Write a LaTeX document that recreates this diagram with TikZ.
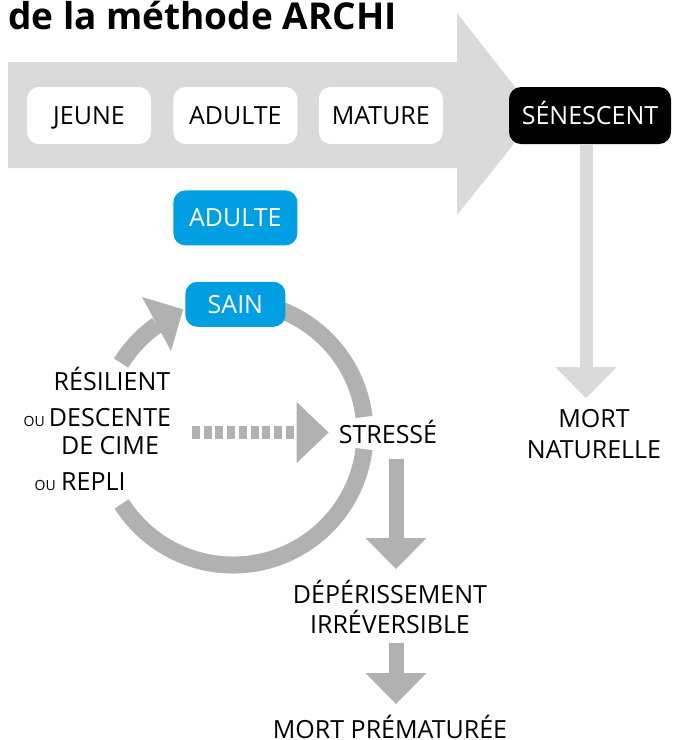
\documentclass[tikz,border=0pt]{standalone}
\usepackage{fontspec}
\setmainfont{Open Sans}
\usetikzlibrary{arrows.meta, positioning}
\definecolor{archiblue}{RGB}{0,159,227}
\definecolor{lightgrey}{RGB}{218,218,218}
\definecolor{midgrey}{RGB}{177,177,177}
\tikzset{
  stage/.style={fill=white, rounded corners=12pt, minimum width=124pt, minimum height=57pt,
    inner sep=0pt, font=\fontsize{25}{30}\selectfont, text height=18pt, text depth=0pt},
  bluestage/.style={stage, fill=archiblue, text=white},
  lbl/.style={font=\fontsize{25}{30}\selectfont, inner sep=0pt, align=center},
  oulbl/.style={font=\fontsize{14}{16}\selectfont, inner sep=0pt},
  ring/.style={draw=midgrey, line width=17pt},
  fall/.style={draw=midgrey, line width=15pt, -{Triangle[length=31pt, width=61pt, line width=0pt]}},
  age/.style={draw=lightgrey, line width=13pt, -{Triangle[length=31pt, width=61pt, line width=0pt]}},
  relapse/.style={draw=midgrey, line width=13pt, dash pattern=on 8pt off 3.7pt,
    -{Triangle[length=32pt, width=61pt, line width=0pt]}},
}
\begin{document}
\begin{tikzpicture}[x=1pt, y=1pt]
  \useasboundingbox (0,0) rectangle (673,-740);
  \node[anchor=base west, inner sep=0pt, font=\fontsize{37}{40}\selectfont\bfseries] (title) at (8,-29) {de la méthode ARCHI};
  % big arrow of ages
  \fill[lightgrey] (8,-62) -- (457,-62) -- (457,-13) -- (537,-115) -- (457,-215) -- (457,-168) -- (8,-168) -- cycle;
  \node[stage] (jeune) at (89,-115.5) {JEUNE};
  \node[stage, right=22pt of jeune] (adulte) {ADULTE};
  \node[stage, right=21pt of adulte] (mature) {MATURE};
  \node[stage, fill=black, text=white, minimum width=162pt] (senescent) at (590,-115.5) {SÉNESCENT};
  \node[bluestage, minimum height=55pt, below=46pt of adulte] (badulte) {ADULTE};
  % ring
  \coordinate (rc) at (233,-433);
  \draw[ring] ([shift={(90:132pt)}]rc) arc[start angle=90, end angle=7, radius=132pt];
  \draw[ring] ([shift={(-7:132pt)}]rc) arc[start angle=-7, end angle=-147.5, radius=132pt];
  \draw[ring] ([shift={(148:132pt)}]rc) arc[start angle=148, end angle=125, radius=132pt];
  \node[bluestage, minimum width=100pt, minimum height=45pt, below=36pt of badulte] (sain) {SAIN};
  \fill[midgrey] ([shift={(-2pt,-5pt)}]sain.west) -- (142,-297) -- (171,-351) -- cycle;
  % labels
  \node[lbl, anchor=base] (stress) at (388,-443) {STRESSÉ};
  \node[lbl, anchor=base] (resil) at (112,-390) {RÉSILIENT};
  \node[lbl, anchor=base, font=\fontsize{25}{28}\selectfont] (desc) at (110,-454) {DESCENTE\\DE CIME};
  \node[oulbl, anchor=base east] (ou1) at (45,-426) {OU};
  \node[lbl, anchor=base west] (repli) at (61,-490) {REPLI};
  \node[oulbl, anchor=base east] (ou2) at ([xshift=-5pt]repli.base west) {OU};
  \node[lbl, anchor=base] (dep) at (390,-633) {DÉPÉRISSEMENT\\IRRÉVERSIBLE};
  \node[lbl, anchor=base] (mortpre) at (390,-738) {MORT PRÉMATURÉE};
  \node[lbl, anchor=base, font=\fontsize{25}{31}\selectfont] (mortnat) at (594,-458) {MORT\\NATURELLE};
  % arrows
  \coordinate (rstart) at (192,-432.5);
  \draw[relapse] (rstart) -- (rstart -| stress.west) [shorten >=10pt];
  \coordinate (f1) at (396,-459);
  \coordinate (f2) at (396,-643);
  \draw[fall] (f1) -- ++(0,-110);
  \draw[fall] (f2) -- ++(0,-61);
  \draw[age] ([xshift=-4pt]senescent.south) -- ++(0,-254);
\end{tikzpicture}
\end{document}
